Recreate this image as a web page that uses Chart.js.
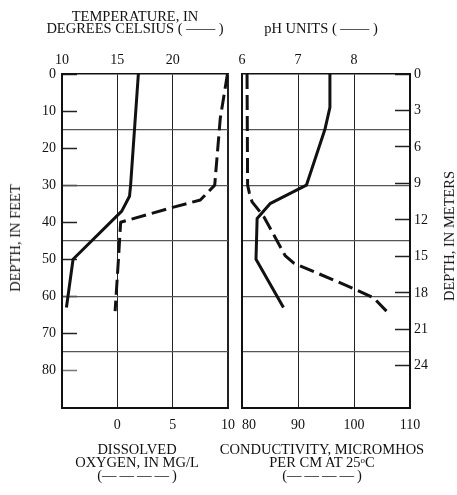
<!DOCTYPE html>
<html>
<head>
<meta charset="utf-8">
<script src="https://cdn.jsdelivr.net/npm/chart.js@4.4.1/dist/chart.umd.min.js"></script>
<style>
  html, body { margin: 0; padding: 0; background: #fff; }
  #wrap { position: relative; width: 457px; height: 495px; overflow: hidden;
          font-family: "Liberation Serif", "DejaVu Serif", serif; color: #111; }
  #wrap canvas { position: absolute; left: 0; top: 0; }
  .lbl { position: absolute; white-space: nowrap; text-align: center; font-size: 14.5px;
         line-height: 12px; transform: translateX(-50%); }
  .bot { line-height: 13px; }
  .vlbl { position: absolute; white-space: nowrap; font-size: 14.5px; line-height: 16px;
          transform: translate(-50%, -50%) rotate(-90deg); }
  .dash { letter-spacing: 3px; }
  sup { font-size: 9px; line-height: 0; vertical-align: 0.5em; }
</style>
</head>
<body>
<div id="wrap">
  <canvas id="left" width="457" height="495"></canvas>
  <canvas id="right" width="457" height="495"></canvas>

  <div class="lbl" style="left:135px; top:10px;">TEMPERATURE, IN<br>DEGREES CELSIUS ( —— )</div>
  <div class="lbl" style="left:321px; top:22px;">pH UNITS ( —— )</div>
  <div class="lbl bot" style="left:137px; top:443px;">DISSOLVED<br>OXYGEN, IN MG/L<br>(<span class="dash">————</span>)</div>
  <div class="lbl bot" style="left:322px; top:443px;">CONDUCTIVITY, MICROMHOS<br>PER CM AT 25<sup>o</sup>C<br>(<span class="dash">————</span>)</div>
  <div class="vlbl" style="left:15px; top:238px;">DEPTH, IN FEET</div>
  <div class="vlbl" style="left:449px; top:236px;">DEPTH, IN METERS</div>
</div>

<script>
// depths are in feet
const depthTemp = [0, 30, 33, 37, 50, 63];
const temperature = [16.9, 16.2, 16.1, 15.4, 11.0, 10.4];

const depthOxygen = [0, 12, 30, 34, 36, 40, 50, 64];
const dissolvedOxygen = [9.95, 9.3, 8.8, 7.5, 5.0, 0.3, 0.1, -0.2];

const depthPH = [0, 9, 15, 30, 35, 39, 50, 63];
const phUnits = [7.57, 7.57, 7.48, 7.15, 6.5, 6.27, 6.25, 6.74];

const depthCond = [0, 30, 32, 34.5, 38.5, 49, 51, 57.7, 60.4, 64];
const conductivity = [80.9, 81.0, 81.3, 81.8, 83.9, 87.7, 89.2, 99.6, 103.5, 105.8];

// tick labels
const feetTicks = [0, 10, 20, 30, 40, 50, 60, 70, 80];
const meterTicks = [0, 3, 6, 9, 12, 15, 18, 21, 24];
const gridFeet = [15, 30, 45, 60, 75];
const tempTicks = [10, 15, 20];
const oxygenTicks = [0, 5, 10];
const phTicks = [6, 7, 8];
const condTicks = [80, 90, 100, 110];

const FT_TO_M = 0.3048;
const ink = '#111';
const font = { family: 'Liberation Serif', size: 14 };

const pts = (ys, xs) => xs.map((x, i) => ({ x: x, y: ys[i] }));
const setTicks = vals => s => { s.ticks = vals.map(v => ({ value: v })); };
const fixW = w => s => { s.width = w; };
const fixH = h => s => { s.height = h; };
const onlyLabels = list => v => list.includes(v) ? String(v) : '';

const solid = { showLine: true, borderColor: ink, borderWidth: 3, pointRadius: 0,
                borderJoinStyle: 'round', borderCapStyle: 'butt' };
const dashed = Object.assign({}, solid, { borderDash: [15, 6] });

const base = {
  responsive: false,
  animation: false,
  devicePixelRatio: 1,
  plugins: { legend: { display: false }, tooltip: { enabled: false } }
};

// left panel: temperature (top) and dissolved oxygen (bottom)
new Chart(document.getElementById('left'), {
  type: 'scatter',
  data: {
    datasets: [
      Object.assign({ data: pts(depthTemp, temperature), xAxisID: 'xTemp', yAxisID: 'yFt' }, solid),
      Object.assign({ data: pts(depthOxygen, dissolvedOxygen), xAxisID: 'xDO', yAxisID: 'yFt' }, dashed)
    ]
  },
  options: Object.assign({}, base, {
    layout: { padding: { left: 0, right: 229, top: 0, bottom: 0 } },
    scales: {
      xTemp: {
        type: 'linear', position: 'top', min: 10, max: 25,
        afterBuildTicks: setTicks([10, 15, 20, 25]), afterFit: fixH(74),
        ticks: { font, color: ink, padding: 5, callback: onlyLabels(tempTicks) },
        grid: { color: '#222', drawTicks: false,
                lineWidth: c => (c.tick && c.tick.value === 25) ? 2 : 1 },
        border: { color: ink, width: 1.5 }
      },
      xDO: {
        type: 'linear', position: 'bottom', min: -5, max: 10,
        afterBuildTicks: setTicks(oxygenTicks), afterFit: fixH(87.5),
        ticks: { font, color: ink, padding: 9 },
        grid: { drawOnChartArea: false, drawTicks: false },
        border: { color: ink, width: 2 }
      },
      yFt: {
        type: 'linear', position: 'left', min: 0, max: 90, reverse: true,
        afterBuildTicks: setTicks(feetTicks), afterFit: fixW(62),
        ticks: { font, color: ink, padding: 21 },
        grid: { drawOnChartArea: false, drawTicks: true, tickLength: -15,
                tickColor: c => (c.tick && c.tick.value === 80) ? '#777' : '#222', tickWidth: 1.5 },
        border: { color: ink, width: 2 }
      },
      yGrid: {
        type: 'linear', position: 'left', min: 0, max: 90, reverse: true,
        afterBuildTicks: setTicks(gridFeet), afterFit: fixW(0),
        ticks: { display: false },
        grid: { color: '#555', lineWidth: 1.2, drawTicks: false },
        border: { display: false }
      }
    }
  })
});

// right panel: pH (top) and conductivity (bottom)
new Chart(document.getElementById('right'), {
  type: 'scatter',
  data: {
    datasets: [
      Object.assign({ data: pts(depthPH, phUnits), xAxisID: 'xPH', yAxisID: 'yFt' }, solid),
      Object.assign({ data: pts(depthCond, conductivity), xAxisID: 'xCond', yAxisID: 'yFt' }, dashed)
    ]
  },
  options: Object.assign({}, base, {
    layout: { padding: { left: 242, right: 0, top: 0, bottom: 0 } },
    scales: {
      xPH: {
        type: 'linear', position: 'top', min: 6, max: 9,
        afterBuildTicks: setTicks([6, 7, 8, 9]), afterFit: fixH(74),
        ticks: { font, color: ink, padding: 5, callback: onlyLabels(phTicks) },
        grid: { color: '#222', drawTicks: false },
        border: { color: ink, width: 1.5 }
      },
      xCond: {
        type: 'linear', position: 'bottom', min: 80, max: 110,
        afterBuildTicks: setTicks(condTicks), afterFit: fixH(87.5),
        // first label is nudged right so it clears the "10" of the oxygen axis
        ticks: { font, color: ink, padding: 9,
                 callback: v => v === condTicks[0] ? '\u00a0\u00a0\u00a0\u00a0' + v : String(v) },
        grid: { drawOnChartArea: false, drawTicks: false },
        border: { color: ink, width: 2 }
      },
      yFt: {
        type: 'linear', position: 'left', min: 0, max: 90, reverse: true,
        afterBuildTicks: setTicks(gridFeet), afterFit: fixW(0),
        ticks: { display: false },
        grid: { color: '#555', lineWidth: 1.2, drawTicks: false },
        border: { color: ink, width: 2 }
      },
      yM: {
        type: 'linear', position: 'right', min: 0, max: 90 * FT_TO_M, reverse: true,
        afterBuildTicks: setTicks(meterTicks), afterFit: fixW(47),
        ticks: { font, color: ink, padding: 19 },
        grid: { drawOnChartArea: false, drawTicks: true, tickLength: -15,
                tickColor: '#222', tickWidth: 1.5 },
        border: { color: ink, width: 2 }
      }
    }
  })
});
</script>
</body>
</html>
